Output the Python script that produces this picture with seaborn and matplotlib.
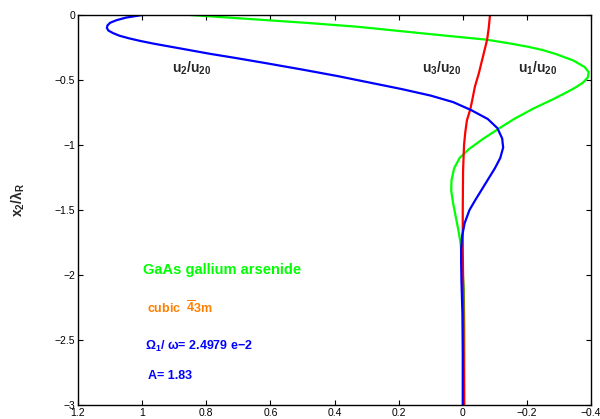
import numpy as np
import pandas as pd
import seaborn as sns
import matplotlib
matplotlib.use("Agg")
import matplotlib.pyplot as plt

# depth x2/lambda_R and displacement ratios
blue_depth = [0, -0.02, -0.04, -0.06, -0.08, -0.1, -0.12, -0.14, -0.16, -0.18, -0.20,
              -0.22, -0.26, -0.30, -0.33, -0.37, -0.42, -0.47, -0.52, -0.57, -0.62,
              -0.67, -0.73, -0.80, -0.87, -0.95, -1.02, -1.10, -1.18, -1.26, -1.34,
              -1.42, -1.50, -1.60, -1.70, -1.80, -1.90, -2.05, -2.3, -2.6, -3.0]
u2 = [1.00, 1.05, 1.08, 1.10, 1.108, 1.11, 1.105, 1.09, 1.07, 1.04, 1.005,
      0.965, 0.875, 0.785, 0.71, 0.615, 0.50, 0.39, 0.29, 0.19, 0.10,
      0.03, -0.025, -0.078, -0.108, -0.123, -0.126, -0.117, -0.10, -0.08, -0.06,
      -0.04, -0.021, -0.006, 0.002, 0.005, 0.005, 0.004, 0.001, 0.0, 0.0]

green_depth = [0, -0.03, -0.06, -0.09, -0.12, -0.15, -0.19, -0.22, -0.245, -0.27,
               -0.30, -0.35, -0.40, -0.44, -0.48, -0.52, -0.56, -0.60, -0.65, -0.72,
               -0.80, -0.87, -0.95, -1.03, -1.10, -1.18, -1.27, -1.35, -1.45, -1.55,
               -1.65, -1.75, -1.9, -2.1, -2.4, -3.0]
u1 = [0.85, 0.67, 0.49, 0.33, 0.21, 0.09, -0.075, -0.15, -0.205, -0.25,
      -0.29, -0.345, -0.38, -0.393, -0.39, -0.375, -0.35, -0.32, -0.28, -0.22,
      -0.16, -0.115, -0.065, -0.02, 0.01, 0.027, 0.035, 0.036, 0.03, 0.022,
      0.014, 0.007, 0.002, -0.003, -0.005, -0.005]

red_depth = [0, -0.1, -0.19, -0.27, -0.35, -0.45, -0.55, -0.65, -0.73, -0.81,
             -0.9, -1.0, -1.2, -1.5, -1.8, -2.2, -2.6, -3.0]
u3 = [-0.085, -0.081, -0.076, -0.068, -0.06, -0.05, -0.038, -0.03, -0.023, -0.013,
      -0.008, -0.004, -0.001, 0.0, 0.0, -0.002, -0.003, -0.004]

x_ticks = [1.2, 1, 0.8, 0.6, 0.4, 0.2, 0, -0.2, -0.4]
y_ticks = [0, -0.5, -1, -1.5, -2, -2.5, -3]

sns.set_style("ticks")
plt.rcParams["font.family"] = ["Liberation Sans", "DejaVu Sans"]
plt.rcParams["mathtext.fontset"] = "custom"
plt.rcParams["mathtext.rm"] = "Liberation Sans"
plt.rcParams["mathtext.it"] = "Liberation Sans:italic"
plt.rcParams["mathtext.bf"] = "Liberation Sans:bold"

fig = plt.figure(figsize=(6, 4.19), dpi=100)
ax = fig.add_axes([0.13, 0.0334, 0.855, 0.9308])

line_kw = dict(sort=False, estimator=None, lw=1.6, ax=ax)
sns.lineplot(x=u1, y=green_depth, color="#00ff00", **line_kw)
sns.lineplot(x=u3, y=red_depth, color="#ff0000", **line_kw)
sns.lineplot(x=u2, y=blue_depth, color="#0000ff", **line_kw)

ax.set_xlim(1.2, -0.4)
ax.set_ylim(-3, 0)
ax.set_xticks(x_ticks)
ax.set_xticklabels([f"{v:g}".replace("-", "\u2212") for v in x_ticks])
ax.set_yticks(y_ticks)
ax.set_yticklabels([f"{v:g}".replace("-", "\u2212") for v in y_ticks])
ax.tick_params(direction="in", top=True, right=True, length=3.5, width=0.8,
               labelsize=7.5, pad=2, colors="black")
for s in ax.spines.values():
    s.set_visible(True)
    s.set_linewidth(1.0)
    s.set_color("black")

ax.set_ylabel(r"$\mathbf{x_2/\lambda_R}$", fontsize=10)
ax.yaxis.set_label_coords(-0.1, 0.526)

ax.text(0.844, -0.41, r"$\mathbf{u_2/u_{20}}$", fontsize=10, ha="center", va="center")
ax.text(0.065, -0.41, r"$\mathbf{u_3/u_{20}}$", fontsize=10, ha="center", va="center")
ax.text(-0.235, -0.41, r"$\mathbf{u_1/u_{20}}$", fontsize=10, ha="center", va="center")

ax.text(0.997, -1.96, "GaAs gallium arsenide", color="#00ff00", fontsize=10.5,
        fontweight="bold", ha="left", va="center")
ax.text(0.985, -2.25, r"cubic  $\overline{\mathbf{4}}$3m", color="#ff8000", fontsize=9,
        fontweight="bold", ha="left", va="center")
ax.text(0.991, -2.55, r"$\mathbf{\Omega_1}$/ $\mathbf{\omega}$= 2.4979 e" + "\u22122",
        color="#0000ff", fontsize=9, fontweight="bold", ha="left", va="center")
ax.text(0.982, -2.78, "A= 1.83", color="#0000ff", fontsize=9,
        fontweight="bold", ha="left", va="center")

fig.savefig("out.png", dpi=100)
